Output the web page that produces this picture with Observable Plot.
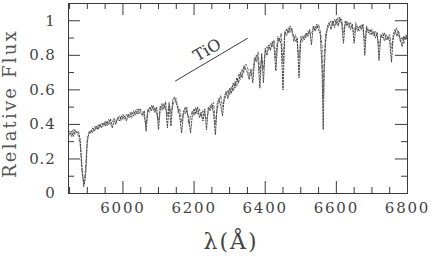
<!DOCTYPE html>
<html><head><meta charset="utf-8">
<script src="https://cdn.jsdelivr.net/npm/d3@7"></script>
<script src="https://cdn.jsdelivr.net/npm/@observablehq/plot@0.6"></script>
<style>
body{margin:0;background:#fff}
svg text{font-family:"DejaVu Serif",serif}
</style>
</head><body><div id="chart"></div>
<script>
const wavelength = [
5850,5855,5860,5865,5870,5875,5880,5885,5890,5895,5900,5905,5910,5915,5920,5925,5930,5935,5940,5945,
5950,5955,5960,5965,5970,5975,5980,5985,5990,5995,6000,6005,6010,6015,6020,6025,6030,6035,6040,6045,
6050,6055,6060,6065,6070,6075,6080,6085,6090,6095,6100,6105,6110,6115,6120,6125,6130,6135,6140,6145,
6150,6155,6160,6165,6170,6175,6180,6185,6190,6195,6200,6205,6210,6215,6220,6225,6230,6235,6240,6245,
6250,6255,6260,6265,6270,6275,6280,6285,6290,6295,6300,6305,6310,6315,6320,6325,6330,6335,6340,6345,
6350,6355,6360,6365,6370,6375,6380,6385,6390,6395,6400,6405,6410,6415,6420,6425,6430,6435,6440,6445,
6450,6455,6460,6465,6470,6475,6480,6485,6490,6495,6500,6505,6510,6515,6520,6525,6530,6535,6540,6545,
6550,6555,6560,6563,6566,6570,6575,6580,6585,6590,6595,6600,6605,6610,6615,6620,6625,6630,6635,6640,
6645,6650,6655,6660,6665,6670,6675,6680,6685,6690,6695,6700,6705,6710,6715,6720,6725,6730,6735,6740,
6745,6750,6755,6760,6765,6770,6775,6780,6785,6790,6795,6800];
// dotted spectrum
const fluxA = [
0.34,0.36,0.33,0.37,0.35,0.36,0.31,0.15,0.04,0.10,0.30,0.36,0.35,0.38,0.36,0.39,0.37,0.40,0.38,0.41,
0.39,0.42,0.40,0.43,0.38,0.42,0.40,0.44,0.42,0.45,0.43,0.45,0.42,0.46,0.44,0.47,0.45,0.48,0.46,0.49,
0.47,0.45,0.48,0.36,0.47,0.50,0.48,0.51,0.47,0.50,0.37,0.49,0.52,0.49,0.53,0.38,0.51,0.39,0.54,0.56,
0.52,0.50,0.44,0.35,0.46,0.50,0.47,0.44,0.35,0.45,0.49,0.46,0.50,0.44,0.47,0.42,0.49,0.37,0.50,0.48,
0.52,0.46,0.34,0.52,0.55,0.51,0.45,0.56,0.59,0.55,0.61,0.58,0.64,0.61,0.67,0.64,0.70,0.67,0.74,0.72,
0.70,0.66,0.72,0.64,0.76,0.80,0.77,0.61,0.81,0.64,0.84,0.80,0.86,0.83,0.88,0.84,0.71,0.87,0.90,0.86,
0.60,0.92,0.95,0.93,0.97,0.94,0.91,0.88,0.90,0.67,0.88,0.91,0.89,0.93,0.91,0.95,0.86,0.97,0.94,0.98,
0.95,0.92,0.70,0.37,0.72,0.88,0.97,0.99,0.95,1.00,0.96,1.01,0.97,1.02,0.98,0.87,1.00,0.97,0.99,0.95,
0.98,0.87,0.97,0.94,0.97,0.95,0.98,0.80,0.96,0.93,0.95,0.92,0.94,0.90,0.93,0.77,0.92,0.90,0.93,0.89,
0.91,0.88,0.76,0.92,0.95,0.91,0.94,0.89,0.85,0.91,0.89,0.92];
// dashed spectrum
const fluxB = [
0.36,0.33,0.37,0.34,0.36,0.33,0.28,0.12,0.06,0.14,0.33,0.34,0.37,0.35,0.39,0.37,0.40,0.38,0.41,0.39,
0.42,0.39,0.43,0.40,0.41,0.44,0.41,0.43,0.45,0.42,0.46,0.43,0.46,0.44,0.47,0.44,0.48,0.45,0.49,0.46,
0.49,0.47,0.44,0.40,0.49,0.47,0.51,0.48,0.50,0.46,0.42,0.51,0.48,0.52,0.49,0.45,0.53,0.46,0.51,0.54,
0.55,0.47,0.49,0.41,0.48,0.46,0.50,0.40,0.44,0.48,0.45,0.50,0.46,0.49,0.44,0.48,0.45,0.43,0.47,0.51,
0.49,0.53,0.40,0.49,0.53,0.57,0.50,0.54,0.57,0.60,0.57,0.62,0.59,0.65,0.62,0.69,0.66,0.72,0.70,0.75,
0.73,0.69,0.68,0.70,0.79,0.76,0.82,0.70,0.79,0.72,0.82,0.85,0.83,0.87,0.85,0.89,0.78,0.91,0.88,0.93,
0.75,0.94,0.91,0.96,0.93,0.96,0.88,0.92,0.87,0.78,0.91,0.88,0.92,0.90,0.94,0.92,0.93,0.95,0.97,0.95,
0.98,0.94,0.85,0.55,0.80,0.93,0.95,0.98,1.00,0.97,1.01,0.98,1.02,0.99,1.01,0.93,0.98,1.00,0.96,0.99,
0.96,0.93,0.99,0.96,0.94,0.98,0.95,0.88,0.97,0.95,0.92,0.95,0.91,0.94,0.91,0.85,0.90,0.93,0.88,0.92,
0.89,0.92,0.84,0.90,0.93,0.96,0.92,0.88,0.90,0.87,0.92,0.90];
const xTickLabels = [6000, 6200, 6400, 6600, 6800];
const yTickLabels = [0, 0.2, 0.4, 0.6, 0.8, 1];
const tioLineX = [6148, 6350];
const tioLineY = [0.652, 0.898];
const tioText = ["TiO"];
const tioTextX = [6237];
const tioTextY = [0.83];

const specA = wavelength.map((w, i) => ({w, f: fluxA[i]}));
const specB = wavelength.map((w, i) => ({w, f: fluxB[i]}));
const xMinor = d3.range(5850, 6801, 50).filter(v => !xTickLabels.includes(v));
const yMinor = d3.range(1, 11, 2).map(v => v / 10);
const ink = "#3a3a3a";
const fh = 190, fw = 339;

const chart = Plot.plot({
  width: 436, height: 258,
  marginLeft: 68, marginRight: 29, marginTop: 3, marginBottom: 65,
  style: {background: "#fff", color: ink, fontFamily: "DejaVu Serif"},
  x: {domain: [5847, 6800], ticks: xTickLabels, tickSize: 0, tickPadding: 9, tickFormat: d => String(d), label: null},
  y: {domain: [0, 1.1], ticks: yTickLabels, tickSize: 0, tickPadding: 13, tickFormat: d => String(d), label: null},
  marks: [
    Plot.frame({stroke: ink, strokeWidth: 1}),
    Plot.tickX(xTickLabels, {x: d => d, insetTop: fh - 12, stroke: ink}),
    Plot.tickX(xTickLabels, {x: d => d, insetBottom: fh - 12, stroke: ink}),
    Plot.tickX(xMinor, {x: d => d, insetTop: fh - 6, stroke: ink}),
    Plot.tickX(xMinor, {x: d => d, insetBottom: fh - 6, stroke: ink}),
    Plot.tickY(yTickLabels, {y: d => d, insetRight: fw - 12, stroke: ink}),
    Plot.tickY(yTickLabels, {y: d => d, insetLeft: fw - 12, stroke: ink}),
    Plot.tickY(yMinor, {y: d => d, insetRight: fw - 6, stroke: ink}),
    Plot.tickY(yMinor, {y: d => d, insetLeft: fw - 6, stroke: ink}),
    Plot.line(specB, {x: "w", y: "f", stroke: "#777", strokeWidth: 1, strokeDasharray: "3,2"}),
    Plot.line(specA, {x: "w", y: "f", stroke: "#444", strokeWidth: 1, strokeDasharray: "1.5,1.5"}),
    Plot.line(tioLineX.map((x, i) => ({x, y: tioLineY[i]})), {x: "x", y: "y", stroke: ink, strokeWidth: 1}),
    Plot.text(tioText, {x: tioTextX, y: tioTextY, text: d => d, rotate: -30, fontSize: 16, fill: ink}),
    Plot.text(["Relative Flux"], {text: d => d, frameAnchor: "left", textAnchor: "middle", rotate: -90, dx: -58, dy: 5, fontSize: 18, fill: "#555"}),
    Plot.text(["λ(Å)"], {text: d => d, frameAnchor: "bottom", dx: -7, dy: 55, fontSize: 22, fill: "#444"})
  ]
});
d3.select(chart).selectAll("g[aria-label='x-axis tick label'] text").attr("font-size", 15).attr("letter-spacing", "1.8px").attr("fill", "#444");
d3.select(chart).selectAll("g[aria-label='y-axis tick label'] text").attr("font-size", 15).attr("letter-spacing", "0.8px").attr("fill", "#444");
d3.select(chart).selectAll("text").filter(function(){return this.textContent==="Relative Flux";}).attr("letter-spacing","2.2px");
d3.select(chart).selectAll("text").filter(function(){return this.textContent==="λ(Å)";}).attr("letter-spacing","2px");
document.getElementById("chart").appendChild(chart);
</script>
</body></html>
